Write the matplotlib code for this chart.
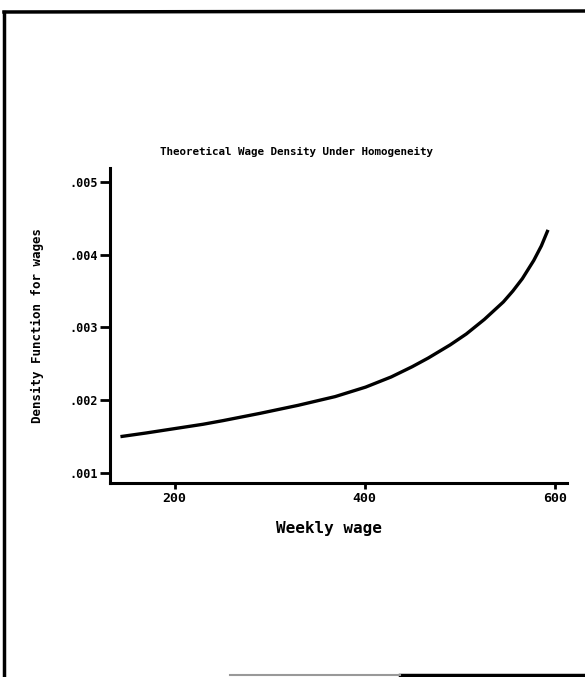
import matplotlib.pyplot as plt
from matplotlib.lines import Line2D

# values
wage = [143, 170, 200, 230, 251, 290, 330, 369, 401, 428, 450, 467,
        490, 507, 526, 546, 556, 566, 578, 586, 593]
density = [0.00150, 0.00155, 0.00161, 0.00167, 0.00172, 0.00182, 0.00193,
           0.00205, 0.00218, 0.00232, 0.00246, 0.00258, 0.00276, 0.00291,
           0.00311, 0.00335, 0.00350, 0.00367, 0.00392, 0.00412, 0.00434]
xticks = [200, 400, 600]
yticks = [0.001, 0.002, 0.003, 0.004, 0.005]
ytick_labels = ['.001', '.002', '.003', '.004', '.005']

W, H = 585, 677
fig = plt.figure(figsize=(W / 100, H / 100), dpi=100)
fig.patch.set_facecolor('white')

mono = 'DejaVu Sans Mono'

ax = fig.add_axes([110 / W, 1 - 483 / H, 457 / W, 315 / H])
ax.plot(wage, density, color='black', lw=2.4, solid_capstyle='butt',
        solid_joinstyle='round')
ax.set_xlim(132, 613)
ax.set_ylim(0.000863, 0.00519)

for s in ['top', 'right']:
    ax.spines[s].set_visible(False)
for s in ['left', 'bottom']:
    ax.spines[s].set_linewidth(2.2)

ax.set_xticks(xticks)
ax.set_xticklabels([str(v) for v in xticks], family=mono, weight='bold', fontsize=9.5)
ax.set_yticks(yticks)
ax.set_yticklabels(ytick_labels, family=mono, weight='bold', fontsize=8.5)
ax.tick_params(axis='x', direction='out', length=4.5, width=2, pad=2)
ax.tick_params(axis='y', direction='out', length=7, width=2, pad=2)

fig.text(296 / W, 1 - 152 / H, 'Theoretical Wage Density Under Homogeneity',
         ha='center', va='center', family=mono, weight='bold', fontsize=7.8)
fig.text(329 / W, 1 - 528 / H, 'Weekly wage', ha='center', va='center',
         family=mono, weight='bold', fontsize=11.5)
fig.text(37 / W, 1 - 325 / H, 'Density Function for wages', ha='center',
         va='center', rotation=90, family=mono, weight='bold', fontsize=9)

# scanned page frame
frame = dict(color='black', lw=2.5, transform=fig.transFigure)
fig.add_artist(Line2D([4 / W, 4 / W], [0, 1 - 12 / H], **frame))
fig.add_artist(Line2D([4 / W, 1], [1 - 12 / H, 1 - 11 / H], **frame))
fig.add_artist(Line2D([400 / W, 1], [1 - 675 / H, 1 - 675 / H], **frame))
fig.add_artist(Line2D([230 / W, 400 / W], [1 - 675 / H, 1 - 675 / H],
                      color='#999999', lw=1.5, transform=fig.transFigure))

fig.savefig('out.png', dpi=100, facecolor='white')
